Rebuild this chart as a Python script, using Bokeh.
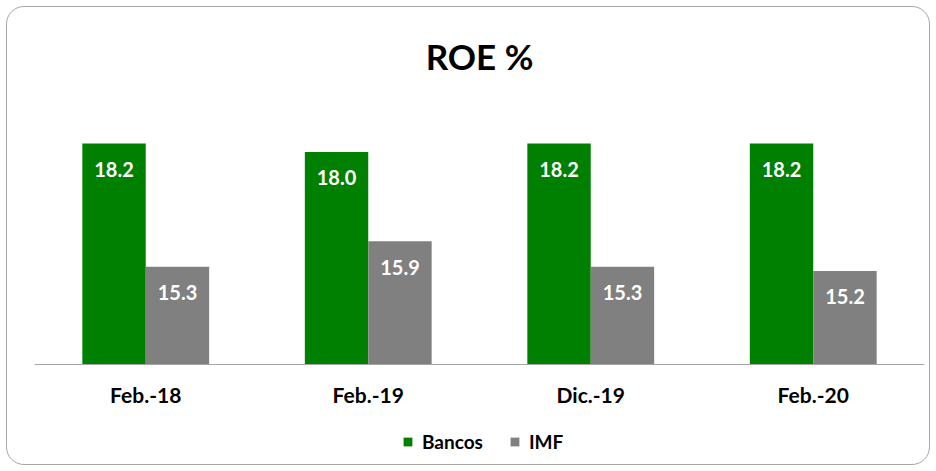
from bokeh.plotting import figure
from bokeh.models import ColumnDataSource, FactorRange, Range1d, Legend, LegendItem
from bokeh.transform import dodge
from bokeh.core.properties import value
from bokeh.embed import file_html
from bokeh.resources import INLINE

# ---- data ----
categories = ["Feb.-18", "Feb.-19", "Dic.-19", "Feb.-20"]
bancos = [18.2, 18.0, 18.2, 18.2]
imf = [15.3, 15.9, 15.3, 15.2]
series_names = ["Bancos", "IMF"]
title_text = "ROE %"
y_min, y_max = 13, 19

GREEN = "#008000"
GRAY = "#808080"
FONT = value("Lato")

# layout (pixels)
W, H = 936, 471
TOP, BAR_AREA, LEFT, RIGHT = 106, 257, 34, 12
below_px = H - TOP - BAR_AREA          # space under the axis for labels + legend
pad_units = below_px * (y_max - y_min) / BAR_AREA

src = ColumnDataSource(dict(
    cat=categories,
    bancos=bancos,
    imf=imf,
    bancos_lbl=[f"{v:.1f}" for v in bancos],
    imf_lbl=[f"{v:.1f}" for v in imf],
))

p = figure(
    x_range=FactorRange(factors=categories, range_padding=0),
    y_range=Range1d(y_min - pad_units, y_max),
    width=W, height=H,
    output_backend="svg", toolbar_location=None,
    y_axis_location=None,
    min_border_left=LEFT, min_border_right=RIGHT, min_border_top=TOP, min_border_bottom=0,
)
p.styles = {"outline": "1px solid #a6a6a6", "outline-offset": "-7px", "border-radius": "24px"}
p.outline_line_color = None
p.xgrid.visible = False
p.ygrid.visible = False
p.background_fill_alpha = 0
p.border_fill_alpha = 0

# title
p.title.text = title_text
p.title.align = "center"
p.title.text_font = "Lato"
p.title.text_font_size = "35px"
p.title.text_font_style = "bold"
p.title.text_color = "#000000"
p.title.standoff = 65

bw = 0.285
off = 0.1425
r1 = p.vbar(x=dodge("cat", -off, range=p.x_range), top="bancos", bottom=y_min, width=bw,
            source=src, fill_color=GREEN, line_color=None)
r2 = p.vbar(x=dodge("cat", off, range=p.x_range), top="imf", bottom=y_min, width=bw,
            source=src, fill_color=GRAY, line_color=None)

p.text(x=dodge("cat", -off, range=p.x_range), y="bancos", text="bancos_lbl", source=src,
       y_offset=26, text_align="center", text_baseline="middle",
       text_font=FONT, text_font_style="bold", text_font_size="20px", text_color="white")
p.text(x=dodge("cat", off, range=p.x_range), y="imf", text="imf_lbl", source=src,
       y_offset=26, text_align="center", text_baseline="middle",
       text_font=FONT, text_font_style="bold", text_font_size="20px", text_color="white")

ax = p.xaxis[0]
ax.fixed_location = y_min
ax.axis_line_color = "#a6a6a6"
ax.axis_line_width = 1
ax.major_tick_line_color = None
ax.major_tick_out = 0
ax.major_tick_in = 0
ax.minor_tick_line_color = None
ax.major_label_text_font = "Lato"
ax.major_label_text_font_style = "bold"
ax.major_label_text_font_size = "21px"
ax.major_label_text_color = "#000000"
ax.major_label_standoff = 18

legend = Legend(
    items=[LegendItem(label=series_names[0], renderers=[r1]),
           LegendItem(label=series_names[1], renderers=[r2])],
    orientation="horizontal", location=(368, 18),
    label_text_font="Lato", label_text_font_style="bold", label_text_font_size="19px",
    label_text_color="#000000",
    glyph_width=11, glyph_height=11, label_standoff=9, spacing=26,
    border_line_color=None, background_fill_alpha=0, padding=0, margin=0,
)
p.add_layout(legend)

open("out.html", "w").write(file_html(p, INLINE))
